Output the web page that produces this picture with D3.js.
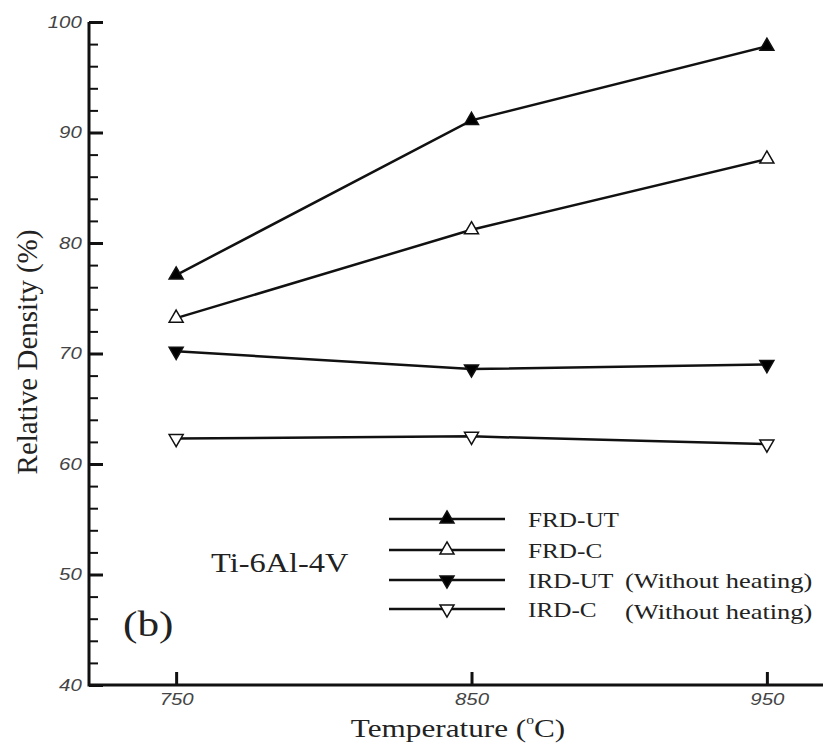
<!DOCTYPE html>
<html>
<head>
<meta charset="utf-8">
<script src="https://cdn.jsdelivr.net/npm/d3@7"></script>
<style>
    body { margin: 0; background: #fff; }
    svg { display: block; }
</style>
</head>
<body>
<div id="chart"></div>
<script>
// temperatures (deg C) and relative density (%) per process
const temps = [750, 850, 950]
const frdUT = [77.1, 91.1, 97.8]
const frdC = [73.2, 81.2, 87.6]
const irdUT = [70.2, 68.6, 69.0]
const irdC = [62.3, 62.5, 61.8]

const xTicks = [750, 850, 950]
const yTicks = [40, 50, 60, 70, 80, 90, 100]
const yMinor = d3.range(42, 100, 2).filter(v => v % 10 !== 0)

const seriesNames = ["FRD-UT", "FRD-C", "IRD-UT", "IRD-C"]
const seriesNotes = ["", "", "(Without heating)", "(Without heating)"]

let width = 823, height = 747
let stretch = 1.2
let serif = "'Liberation Serif', 'Times New Roman', serif"
let sans = "'Liberation Sans', Arial, sans-serif"

let xScale = d3.scaleLinear().domain([720.5, 969]).range([89, 823]),
    yScale = d3.scaleLinear().domain([40, 100]).range([685, 22]);

let svg = d3.select("#chart")
    .append("svg")
    .attr("width", width)
    .attr("height", height)

// marker styles: up/down triangle, filled/open
let markers = [
    {rot: 0, fill: "#000"},
    {rot: 0, fill: "#fff"},
    {rot: 180, fill: "#000"},
    {rot: 180, fill: "#fff"}
]
let tri = d3.symbol().type(d3.symbolTriangle).size(85)

// minor y ticks
svg.append("g")
    .attr("transform", "translate(89,0)")
    .call(d3.axisLeft(yScale).tickValues(yMinor).tickSizeInner(-9).tickSizeOuter(0).tickFormat(""))
    .call(g => g.select(".domain").remove())
    .selectAll("line").attr("stroke", "#111").attr("stroke-width", 2)

// major y ticks
let yAxis = svg.append("g")
    .attr("transform", "translate(89,0)")
    .call(d3.axisLeft(yScale).tickValues(yTicks).tickSizeInner(-14).tickSizeOuter(0).tickPadding(6))
yAxis.select(".domain").remove()
yAxis.selectAll("line").attr("stroke", "#111").attr("stroke-width", 3)
yAxis.selectAll("text")
    .style("font-family", sans)
    .style("font-style", "italic")
    .style("font-size", "17px")
    .attr("fill", "#444")
    .attr("transform", "scale(" + stretch + ",1)")

// x axis
let xAxis = svg.append("g")
    .attr("transform", "translate(0,685)")
    .call(d3.axisBottom(xScale).tickValues(xTicks).tickSizeInner(-13).tickSizeOuter(0).tickPadding(8))
xAxis.select(".domain").remove()
xAxis.selectAll("line").attr("stroke", "#111").attr("stroke-width", 3)
xAxis.selectAll("text")
    .style("font-family", sans)
    .style("font-style", "italic")
    .style("font-size", "17px")
    .attr("fill", "#444")
    .attr("transform", "scale(" + stretch + ",1)")

// axis lines
svg.append("path")
    .attr("d", d3.line()([[xScale.range()[0], yScale.range()[1]], [xScale.range()[0], yScale.range()[0]], [xScale.range()[1], yScale.range()[0]]]))
    .attr("fill", "none")
    .attr("stroke", "#111")
    .attr("stroke-width", 3)

// series lines + markers
let allSeries = [frdUT, frdC, irdUT, irdC]
let line = d3.line()
    .x(function(d, i) { return xScale(temps[i]) })
    .y(function(d) { return yScale(d) })

allSeries.forEach(function (vals, s) {
    svg.append("path")
        .datum(vals)
        .attr("fill", "none")
        .attr("stroke", "#111")
        .attr("stroke-width", 2.5)
        .attr("d", line)

    svg.selectAll(".m" + s)
        .data(vals)
        .enter().append("path")
        .attr("class", "m" + s)
        .attr("d", tri)
        .attr("transform", function (d, i) {
            return "translate(" + xScale(temps[i]) + "," + yScale(d) + ") rotate(" + markers[s].rot + ")"
        })
        .attr("fill", markers[s].fill)
        .attr("stroke", "#111")
        .attr("stroke-width", 1.5)
})

function addText(x, y, str, size, anchor) {
    return svg.append("text")
        .attr("transform", "translate(" + x + "," + y + ") scale(" + stretch + ",1)")
        .attr("text-anchor", anchor || "start")
        .style("font-family", serif)
        .style("font-size", size + "px")
        .attr("fill", "#222")
        .text(str)
}

// legend
let legendRows = [519, 550, 580, 609]
seriesNames.forEach(function (name, s) {
    let ly = legendRows[s]
    svg.append("line")
        .attr("x1", 389).attr("x2", 505)
        .attr("y1", ly).attr("y2", ly)
        .attr("stroke", "#111")
        .attr("stroke-width", 2.5)
    svg.append("path")
        .attr("d", tri)
        .attr("transform", "translate(447," + ly + ") rotate(" + markers[s].rot + ")")
        .attr("fill", markers[s].fill)
        .attr("stroke", "#111")
        .attr("stroke-width", 1.5)
    addText(528, ly + 8, name, 21)
    if (seriesNotes[s]) addText(625, ly + 8 + (s === 3 ? 2 : 0), seriesNotes[s], 22)
})

// annotations
addText(211, 572, "Ti-6Al-4V", 27)
addText(123, 636, "(b)", 36)

// axis titles
svg.append("text")
    .attr("transform", "translate(37,352) rotate(-90)")
    .attr("text-anchor", "middle")
    .style("font-family", serif)
    .style("font-size", "29px")
    .attr("fill", "#222")
    .text("Relative Density (%)")

let xt = svg.append("text")
    .attr("transform", "translate(458,737) scale(" + stretch + ",1)")
    .attr("text-anchor", "middle")
    .style("font-family", serif)
    .style("font-size", "26px")
    .attr("fill", "#222")
xt.append("tspan").text("Temperature (")
xt.append("tspan").attr("dy", -13).style("font-size", "13px").text("o")
xt.append("tspan").attr("dy", 13).text("C)")
</script>
</body>
</html>
